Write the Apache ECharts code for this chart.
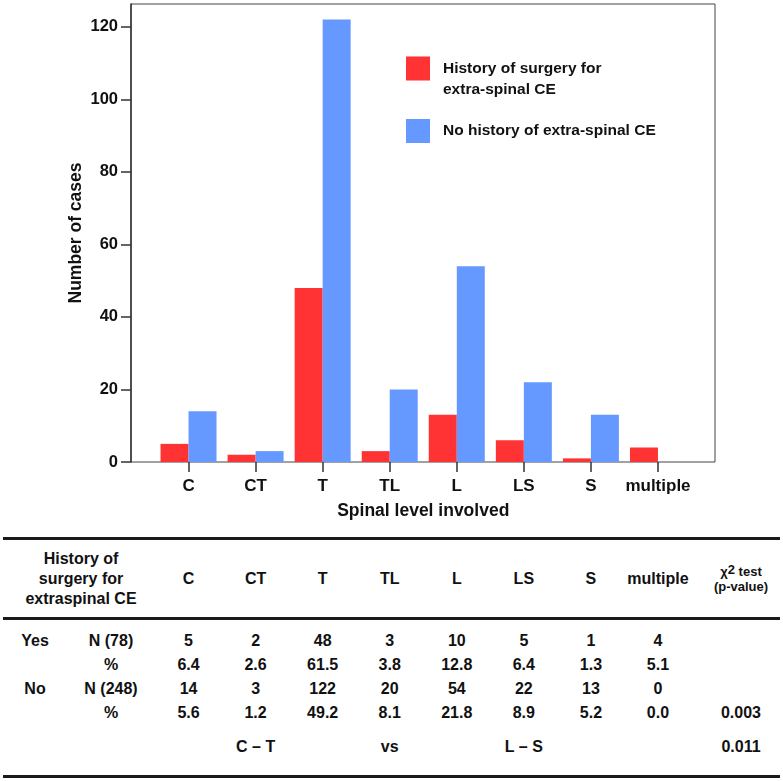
<!DOCTYPE html>
<html>
<head>
<meta charset="utf-8">
<script src="https://cdn.jsdelivr.net/npm/echarts@6/dist/echarts.min.js"></script>
<style>
  html, body { margin: 0; padding: 0; background: #fff; }
  #wrap { position: relative; width: 783px; height: 781px; overflow: hidden; font-family: "Liberation Sans", Arial, sans-serif; color: #111; }
  #chart { position: absolute; left: 0; top: 0; width: 783px; height: 530px; }
  .cell { position: absolute; text-align: center; font-weight: bold; font-size: 16px; line-height: 20px; white-space: nowrap; }
  .rule { position: absolute; left: 3px; width: 777px; height: 3px; background: #1a1a1a; }
</style>
</head>
<body>
<div id="wrap">
  <div id="chart"></div>
  <div id="table"></div>
</div>
<script>
// ---- data ----
const categories = ['C', 'CT', 'T', 'TL', 'L', 'LS', 'S', 'multiple'];
const surgeryCounts = [5, 2, 48, 3, 13, 6, 1, 4];
const noHistoryCounts = [14, 3, 122, 20, 54, 22, 13, 0];
const yTicks = [0, 20, 40, 60, 80, 100, 120];
const seriesNames = ['History of surgery for\nextra-spinal CE', 'No history of extra-spinal CE'];

const tableHeaderGroup = ['History of', 'surgery for', 'extraspinal CE'];
const tableYesN = ['5', '2', '48', '3', '10', '5', '1', '4'];
const tableYesPct = ['6.4', '2.6', '61.5', '3.8', '12.8', '6.4', '1.3', '5.1'];
const tableNoN = ['14', '3', '122', '20', '54', '22', '13', '0'];
const tableNoPct = ['5.6', '1.2', '49.2', '8.1', '21.8', '8.9', '5.2', '0.0'];
const rowGroups = ['Yes', '', 'No', ''];
const rowLabels = ['N (78)', '%', 'N (248)', '%'];
const pValues = ['', '', '', '0.003'];
const comparison = ['C \u2013 T', 'vs', 'L \u2013 S', '0.011'];

// ---- chart ----
const RED = '#ff3333';
const BLUE = '#6699ff';
const TXT = '#111';
const FONT = '"Liberation Sans", Arial, sans-serif';
const Y_MAX = 126.3;

const chart = echarts.init(document.getElementById('chart'), null, { renderer: 'canvas' });
chart.setOption({
  animation: false,
  backgroundColor: '#fff',
  textStyle: { fontFamily: FONT },
  grid: [
    { left: 131, top: 4, width: 584, height: 458, show: true, borderColor: '#444', borderWidth: 1, containLabel: false },
    { left: 155, top: 4, width: 536.5, height: 458, containLabel: false }
  ],
  legend: [
    {
      data: [seriesNames[0]], left: 406, top: 37, orient: 'vertical', padding: 0,
      itemWidth: 24, itemHeight: 24, icon: 'rect', selectedMode: false,
      formatter: function (name) { return '\n' + name; },
      textStyle: { fontFamily: FONT, fontSize: 15.5, fontWeight: 'bold', color: TXT, lineHeight: 21, padding: [0, 0, 0, 8] }
    },
    {
      data: [seriesNames[1]], left: 406, top: 119, orient: 'vertical', padding: 0,
      itemWidth: 24, itemHeight: 24, icon: 'rect', selectedMode: false,
      textStyle: { fontFamily: FONT, fontSize: 15.5, fontWeight: 'bold', color: TXT, lineHeight: 21, padding: [0, 0, 0, 8] }
    }
  ],
  xAxis: [
    { type: 'value', gridIndex: 0, show: false, min: 0, max: 1 },
    {
      type: 'category', gridIndex: 1, data: categories, boundaryGap: true,
      axisLine: { show: false },
      axisTick: { show: true, alignWithLabel: true, length: 10, lineStyle: { color: '#333', width: 1.5 } },
      axisLabel: { color: TXT, fontSize: 17, fontWeight: 'bold', fontFamily: FONT, margin: 16, interval: 0 },
      name: 'Spinal level involved', nameLocation: 'middle', nameGap: 40, nameMoveOverlap: false,
      nameTextStyle: { color: TXT, fontSize: 17.5, fontWeight: 'bold', fontFamily: FONT, verticalAlign: 'top' }
    }
  ],
  yAxis: [
    {
      type: 'value', gridIndex: 0, min: 0, max: Y_MAX, interval: 20,
      axisLine: { show: true, lineStyle: { color: '#333', width: 1.5 } },
      axisTick: { show: true, length: 10, customValues: yTicks, lineStyle: { color: '#333', width: 1.5 } },
      axisLabel: { color: TXT, fontSize: 16.5, fontWeight: 'bold', fontFamily: FONT, margin: 13, customValues: yTicks },
      splitLine: { show: false },
      name: 'Number of cases', nameLocation: 'middle', nameGap: 46, nameRotate: 90, nameMoveOverlap: false,
      nameTextStyle: { color: TXT, fontSize: 17.5, fontWeight: 'bold', fontFamily: FONT }
    },
    { type: 'value', gridIndex: 1, min: 0, max: Y_MAX, show: false }
  ],
  series: [
    {
      name: seriesNames[0], type: 'bar', xAxisIndex: 1, yAxisIndex: 1,
      data: surgeryCounts, barWidth: 28, barGap: '0%', itemStyle: { color: RED }
    },
    {
      name: seriesNames[1], type: 'bar', xAxisIndex: 1, yAxisIndex: 1,
      data: noHistoryCounts, barWidth: 28, barGap: '0%', itemStyle: { color: BLUE }
    }
  ]
});

// ---- table (columns aligned with chart categories) ----
const tbl = document.getElementById('table');
function cell(text, cx, cy, opts) {
  const d = document.createElement('div');
  d.className = 'cell';
  const w = (opts && opts.w) || 120;
  d.style.left = (cx - w / 2) + 'px';
  d.style.width = w + 'px';
  const lh = (opts && opts.lh) || 20;
  const lines = text.split('<br>').length;
  d.style.lineHeight = lh + 'px';
  d.style.top = (cy - lh * lines / 2) + 'px';
  if (opts && opts.size) d.style.fontSize = opts.size + 'px';
  d.innerHTML = text;
  tbl.appendChild(d);
}
function rule(y) {
  const r = document.createElement('div');
  r.className = 'rule';
  r.style.top = y + 'px';
  tbl.appendChild(r);
}
const colX = categories.map((c, i) => chart.convertToPixel({ xAxisIndex: 1 }, i));
const groupX = 35, labelX = 111, pX = 741;

rule(537); rule(617); rule(775);

// header
cell(tableHeaderGroup.join('<br>'), 81, 579, { w: 160 });
categories.forEach((c, i) => cell(c, colX[i], 579));
cell('\u03c7<span style="position:relative;top:-2px">2</span> test<br>(p-value)', pX, 579, { size: 13, lh: 15, w: 80 });

// body
const rowY = [641, 665, 689, 713];
const rows = [tableYesN, tableYesPct, tableNoN, tableNoPct];
rows.forEach((vals, r) => {
  if (rowGroups[r]) cell(rowGroups[r], groupX, rowY[r], { w: 60 });
  cell(rowLabels[r], labelX, rowY[r], { w: 90 });
  vals.forEach((v, i) => cell(v, colX[i], rowY[r]));
  if (pValues[r]) cell(pValues[r], pX, rowY[r], { w: 80 });
});
cell(comparison[0], colX[1], 747);
cell(comparison[1], colX[3], 747);
cell(comparison[2], colX[5], 747);
cell(comparison[3], pX, 747, { w: 80 });
</script>
</body>
</html>
